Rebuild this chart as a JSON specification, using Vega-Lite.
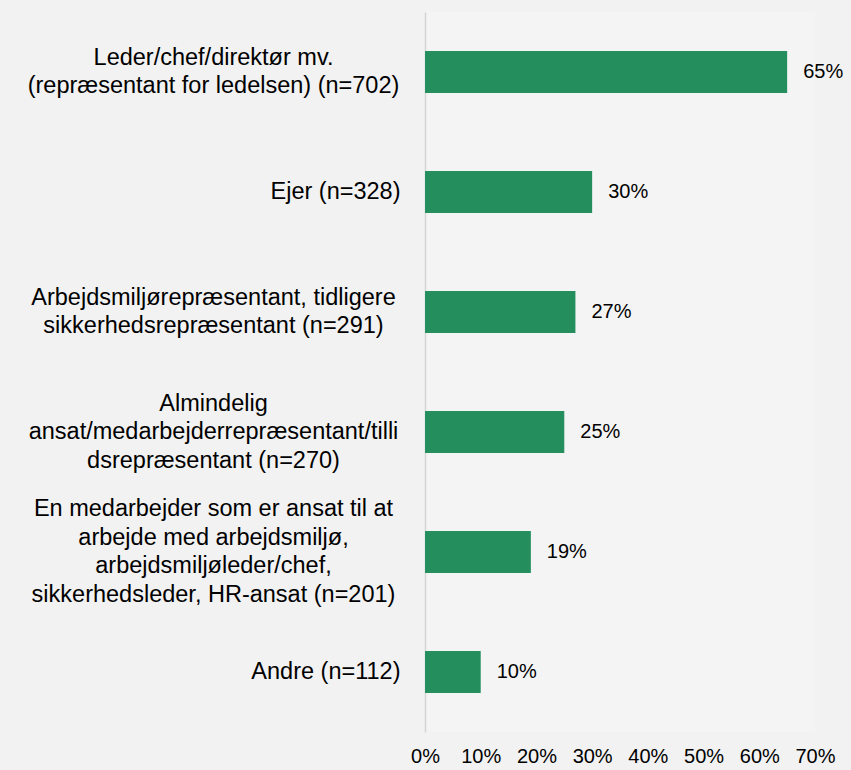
{
  "$schema": "https://vega.github.io/schema/vega-lite/v6.json",
  "autosize": {"type": "none"},
  "width": 390,
  "height": 720,
  "padding": {"left": 425, "top": 12, "right": 36, "bottom": 38},
  "background": "#f2f2f2",
  "config": {
    "view": {"fill": "#f4f4f4", "stroke": null},
    "font": "Liberation Sans"
  },
  "data": {
    "values": [
      {"label": "Leder/chef/direktør mv.|(repræsentant for ledelsen) (n=702)", "value": 0.65},
      {"label": "Ejer (n=328)", "value": 0.30},
      {"label": "Arbejdsmiljørepræsentant, tidligere|sikkerhedsrepræsentant (n=291)", "value": 0.27},
      {"label": "Almindelig|ansat/medarbejderrepræsentant/tilli|dsrepræsentant (n=270)", "value": 0.25},
      {"label": "En medarbejder som er ansat til at|arbejde med arbejdsmiljø,|arbejdsmiljøleder/chef,|sikkerhedsleder, HR-ansat (n=201)", "value": 0.19},
      {"label": "Andre (n=112)", "value": 0.10}
    ]
  },
  "encoding": {
    "y": {
      "field": "label",
      "type": "nominal",
      "sort": null,
      "scale": {"paddingInner": 0.65, "paddingOuter": 0.325},
      "axis": {
        "title": null,
        "ticks": false,
        "domainColor": "#d4d4d4",
        "domainWidth": 1.5,
        "labelExpr": "split(datum.label, '|')",
        "labelFontSize": 23.5,
        "labelColor": "#000000",
        "labelLineHeight": 28.5,
        "labelLimit": 0,
        "labelBaseline": "middle",
        "labelAlign": {"condition": {"test": "indexof(datum.value, '|') >= 0", "value": "center"}, "value": "right"},
        "labelPadding": {"condition": {"test": "indexof(datum.value, '|') >= 0", "value": 212}, "value": 25},
        "labelOffset": {"expr": "-(length(split(datum.value, '|')) - 1) * 14.25"}
      }
    },
    "x": {
      "field": "value",
      "type": "quantitative",
      "scale": {"domain": [0, 0.7], "nice": false},
      "axis": {
        "title": null,
        "values": [0, 0.1, 0.2, 0.3, 0.4, 0.5, 0.6, 0.7],
        "format": ".0%",
        "grid": false,
        "ticks": false,
        "domain": false,
        "labelFontSize": 20,
        "labelColor": "#000000",
        "labelPadding": 14,
        "labelFlush": false
      }
    }
  },
  "layer": [
    {"mark": {"type": "bar", "color": "#248e5d"}},
    {
      "mark": {"type": "text", "align": "left", "baseline": "middle", "dx": 16, "fontSize": 20, "color": "#000000"},
      "encoding": {"text": {"field": "value", "type": "quantitative", "format": ".0%"}}
    }
  ]
}
